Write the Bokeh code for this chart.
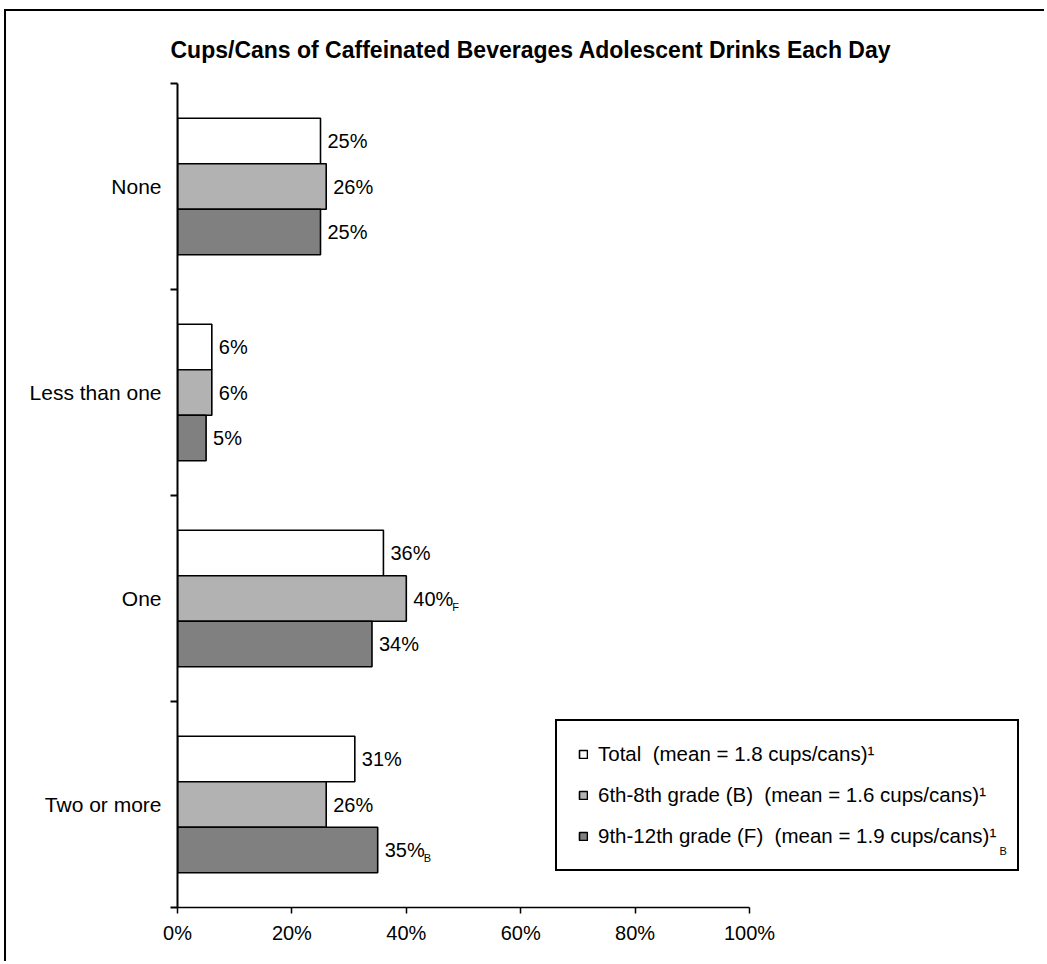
from bokeh.plotting import figure
from bokeh.models import ColumnDataSource, Range1d, FixedTicker, Legend, LegendItem
from bokeh.transform import dodge
from bokeh.embed import file_html
from bokeh.resources import INLINE
from bokeh.core.properties import value

# ---------------- data ----------------
title_text = "Cups/Cans of Caffeinated Beverages Adolescent Drinks Each Day"
categories = ["None", "Less than one", "One", "Two or more"]
series_names = [
    "Total \u00a0(mean = 1.8 cups/cans)\u00b9",
    "6th-8th grade (B) \u00a0(mean = 1.6 cups/cans)\u00b9",
    "9th-12th grade (F) \u00a0(mean = 1.9 cups/cans)\u00b9",
]
total = [25, 6, 36, 31]
grade_6_8 = [26, 6, 40, 26]
grade_9_12 = [25, 5, 34, 35]
sub_total = ["", "", "", ""]
sub_6_8 = ["", "", "F", ""]
sub_9_12 = ["", "", "", "B"]
legend_sub_9_12 = "B"
x_ticks = [0, 20, 40, 60, 80, 100]
x_tick_labels = ["0%", "20%", "40%", "60%", "80%", "100%"]

colors = ["#FFFFFF", "#B2B2B2", "#808080"]
FONT = "Liberation Sans"
BAR_H = 0.221

p = figure(width=1040, height=952, x_range=Range1d(0, 150), y_range=Range1d(4, 0),
           output_backend="svg", toolbar_location=None,
           min_border_left=171, min_border_top=72, min_border_bottom=56, min_border_right=11)
p.styles = {"border-top": "2px solid black", "border-left": "2px solid black",
            "margin-left": "4px", "margin-top": "9px"}
p.outline_line_color = None
p.xgrid.visible = False
p.ygrid.visible = False

centers = [i + 0.5 for i in range(len(categories))]
renderers = []
for j, (vals, subs) in enumerate([(total, sub_total), (grade_6_8, sub_6_8), (grade_9_12, sub_9_12)]):
    off = (j - 1) * BAR_H
    src = ColumnDataSource(dict(y=centers, x=vals, label=[f"{v}%" for v in vals], sub=subs))
    r = p.hbar(y=dodge("y", off, range=p.y_range), left=0, right="x", height=BAR_H,
               fill_color=colors[j], line_color="black", line_width=1.6, source=src)
    renderers.append(r)
    p.text(x="x", y=dodge("y", off, range=p.y_range), text="label", x_offset=7,
           text_baseline="middle", text_align="left", text_color="black",
           text_font=value(FONT), text_font_size="20px", source=src)
    p.text(x="x", y=dodge("y", off, range=p.y_range), text="sub", x_offset=46, y_offset=8,
           text_baseline="middle", text_align="left", text_color="black",
           text_font=value(FONT), text_font_size="11px", source=src)

# x axis
xa = p.xaxis[0]
xa.ticker = FixedTicker(ticks=x_ticks)
xa.major_label_overrides = {t: l for t, l in zip(x_ticks, x_tick_labels)}
xa.bounds = (0, 100)
xa.axis_line_width = 1.5
xa.axis_line_color = "black"
xa.major_tick_in = 0
xa.major_tick_out = 6
xa.major_tick_line_width = 1.5
xa.minor_tick_line_color = None
xa.major_label_standoff = 8
xa.major_label_text_font = FONT
xa.major_label_text_font_size = "20px"
xa.major_label_text_color = "black"

# y axis
ya = p.yaxis[0]
ya.ticker = FixedTicker(ticks=centers, minor_ticks=[0, 1, 2, 3, 4])
ya.major_label_overrides = {c: n for c, n in zip(centers, categories)}
ya.major_tick_line_color = None
ya.major_tick_in = 0
ya.major_tick_out = 0
ya.minor_tick_in = 0
ya.minor_tick_out = 7
ya.minor_tick_line_width = 2
ya.minor_tick_line_color = "black"
ya.axis_line_width = 2
ya.axis_line_color = "black"
ya.major_label_standoff = 9
ya.major_label_text_font = FONT
ya.major_label_text_font_size = "21px"
ya.major_label_text_color = "black"

# title
p.title.text = title_text
p.title.align = "left"
p.title.offset = -7
p.title.standoff = 42
p.title.text_font = FONT
p.title.text_font_size = "23px"
p.title.text_font_style = "bold"
p.title.text_color = "black"

# legend (transparent background so the subscript below shows through)
legend = Legend(items=[LegendItem(label=series_names[j], renderers=[renderers[j]]) for j in range(3)],
                location=(378, 36), orientation="vertical",
                label_text_font=FONT, label_text_font_size="20.5px", label_text_color="black",
                glyph_width=10, glyph_height=10, label_height=20, label_standoff=10,
                spacing=17, padding=21, margin=0,
                border_line_color="black", border_line_width=2, border_line_alpha=1.0,
                background_fill_alpha=0.0)
p.add_layout(legend)

# small subscript "B" after the third legend entry
sub_src = ColumnDataSource(dict(x=[143.7], y=[3.725], t=[legend_sub_9_12]))
p.text(x="x", y="y", text="t", source=sub_src,
       text_font=value(FONT), text_font_size="11px", text_color="black",
       text_baseline="middle", text_align="left")

open("out.html", "w").write(file_html(p, INLINE))
